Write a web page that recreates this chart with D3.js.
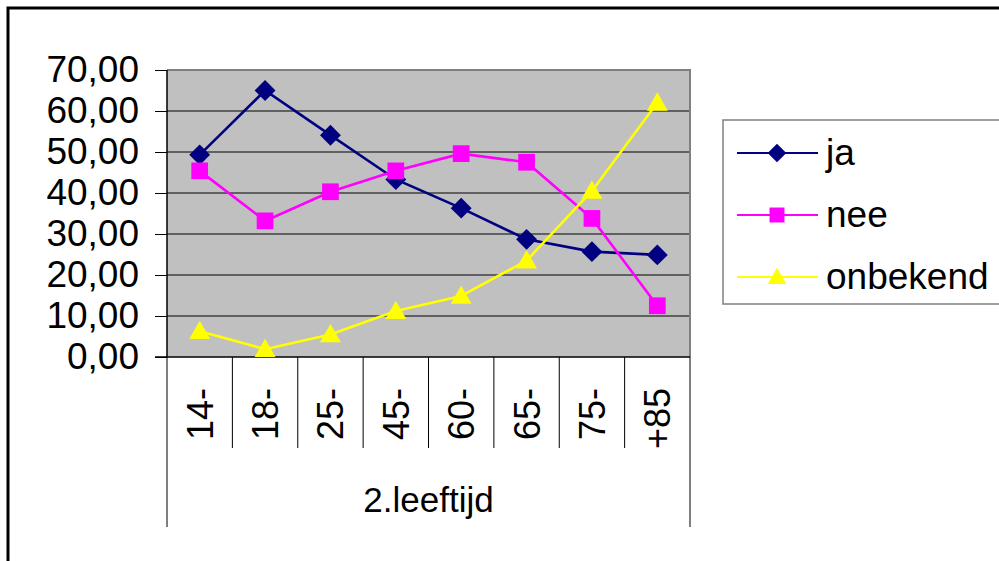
<!DOCTYPE html>
<html><head><meta charset="utf-8">
<script src="https://cdn.jsdelivr.net/npm/d3@7"></script>
<style>body{margin:0;background:#fff;}svg{display:block;font-family:Arial,"Liberation Sans",sans-serif;}</style>
</head><body>
<svg id="c" width="999" height="561"></svg>
<script>
const categories = ["14-","18-","25-","45-","60-","65-","75-","+85"];
const ja = [49.3,65.0,54.1,43.3,36.3,28.7,25.7,24.9];
const nee = [45.4,33.2,40.3,45.4,49.6,47.5,33.8,12.5];
const onbekend = [6.3,1.9,5.5,11.2,14.9,23.5,40.5,62.0];
const yTicks = [0,10,20,30,40,50,60,70];
const seriesNames = ["ja","nee","onbekend"];
const groupLabel = "2.leeftijd";

const svg = d3.select("#c");
const L=167,R=690,T=70,B=357;
const x = d3.scaleBand().domain(categories).range([L,R]).padding(0);
const y = d3.scaleLinear().domain([0,70]).range([B,T]);
const fmt = v => d3.format(".2f")(v).replace(".",",");

// outer border
svg.append("rect").attr("x",8).attr("y",8).attr("width",1100).attr("height",700)
  .attr("fill","none").attr("stroke","#000").attr("stroke-width",3);

// plot area
svg.append("rect").attr("x",L).attr("y",T).attr("width",R-L).attr("height",B-T).attr("fill","#c0c0c0");
svg.append("g").selectAll("line").data(yTicks.filter(d=>d>0)).join("line")
  .attr("x1",L).attr("x2",R).attr("y1",d=>y(d)).attr("y2",d=>y(d)).attr("stroke","#000").attr("stroke-width",1);
svg.append("path").attr("d",`M${L},${T}H${R}V${B}`).attr("fill","none").attr("stroke","#808080").attr("stroke-width",2);

// y axis
const yAxis = d3.axisLeft(y).tickValues(yTicks).tickFormat(fmt).tickSize(12).tickPadding(16);
const ya = svg.append("g").attr("transform",`translate(${L},0)`).call(yAxis);
ya.select(".domain").attr("stroke","#000").attr("stroke-width",1.5).attr("d",`M0,${T}V${B}`);
ya.selectAll(".tick line").attr("stroke","#000");
ya.selectAll("text").attr("font-size",37).attr("fill","#000").attr("font-family","Arial, 'Liberation Sans', sans-serif");

// x axis
svg.append("line").attr("x1",L-12).attr("x2",R).attr("y1",B).attr("y2",B).attr("stroke","#000").attr("stroke-width",1.5);
const bounds = categories.map(c=>x(c)).concat([R]);
svg.append("g").selectAll("line").data(bounds).join("line")
  .attr("x1",d=>d).attr("x2",d=>d).attr("y1",B)
  .attr("y2",(d,i)=> (i===0||i===bounds.length-1)?527:448)
  .attr("stroke","#000").attr("stroke-width",1);
svg.append("g").selectAll("text").data(categories).join("text")
  .attr("transform",d=>`translate(${x(d)+x.bandwidth()/2+13},${388}) rotate(-90)`)
  .attr("text-anchor","end").attr("font-size",36).attr("fill","#000").text(d=>d);
svg.append("text").attr("x",(L+R)/2).attr("y",512).attr("text-anchor","middle")
  .attr("font-size",35).attr("fill","#000").text(groupLabel);

// series
const series = [
  {name:seriesNames[0], values:ja, color:"#000080", marker:"diamond"},
  {name:seriesNames[1], values:nee, color:"#ff00ff", marker:"square"},
  {name:seriesNames[2], values:onbekend, color:"#ffff00", marker:"triangle"}
];
const cx = c => x(c)+x.bandwidth()/2;
const line = d3.line().x((d,i)=>cx(categories[i])).y(d=>y(d));
function drawMarker(g,type,color,px,py,s){
  if(type==="diamond"){
    const r=s*0.55;
    g.append("path").attr("d",`M${px},${py-r}L${px+r},${py}L${px},${py+r}L${px-r},${py}Z`).attr("fill",color);
  } else if(type==="square"){
    const h=s*0.44;
    g.append("rect").attr("x",px-h).attr("y",py-h).attr("width",2*h).attr("height",2*h).attr("fill",color);
  } else {
    const h=s*0.55;
    g.append("path").attr("d",`M${px},${py-h}L${px+h},${py+h*0.75}L${px-h},${py+h*0.75}Z`).attr("fill",color);
  }
}
series.forEach(s=>{
  svg.append("path").datum(s.values).attr("d",line).attr("fill","none").attr("stroke",s.color).attr("stroke-width",2.6);
});
series.forEach(s=>{
  const g=svg.append("g");
  s.values.forEach((v,i)=>drawMarker(g,s.marker,s.color,cx(categories[i]),y(v),19));
});

// legend
svg.append("rect").attr("x",723).attr("y",120).attr("width",290).attr("height",184)
  .attr("fill","#fff").attr("stroke","#808080").attr("stroke-width",1.5);
series.forEach((s,i)=>{
  const ly=153+i*62;
  const g=svg.append("g");
  g.append("line").attr("x1",737).attr("x2",818).attr("y1",ly).attr("y2",ly).attr("stroke",s.color).attr("stroke-width",2.2);
  drawMarker(g,s.marker,s.color,777,ly,17);
  g.append("text").attr("x",826).attr("y",ly+12).attr("font-size",37).attr("fill","#000").text(s.name);
});
</script>
</body></html>
